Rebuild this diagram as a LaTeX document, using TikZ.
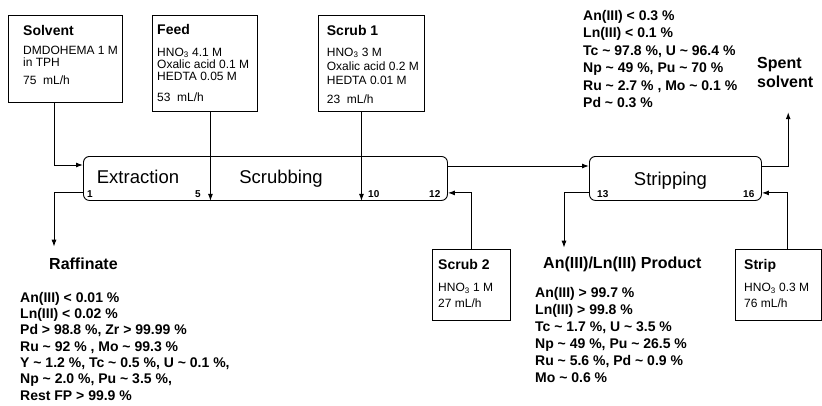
\documentclass[tikz,border=0pt]{standalone}
\usepackage{fontspec}
\setmainfont{Liberation Sans}
\usetikzlibrary{arrows.meta,positioning}

\begin{document}
\begin{tikzpicture}[
  x=1pt, y=-1pt,
  feedbox/.style={
    rectangle,
    draw=black,
    line width=0.9pt,
    anchor=north west,
    inner sep=0pt
  },
  boxtext/.style={
    anchor=north west,
    inner sep=0pt,
    align=left,
    font=\fontsize{12}{12}\selectfont
  },
  stage/.style={
    rectangle,
    rounded corners=6pt,
    draw=black,
    line width=0.9pt,
    anchor=north west,
    inner sep=0pt,
    minimum height=44pt
  },
  stagelabel/.style={anchor=base, inner sep=0pt, font=\fontsize{18.5}{18.5}\selectfont},
  stagenum/.style={anchor=base west, inner sep=0pt, font=\fontsize{10}{10}\selectfont\bfseries},
  heading/.style={inner sep=0pt, align=left, font=\fontsize{16}{19}\selectfont\bfseries},
  result/.style={anchor=north west, inner sep=0pt, align=left, font=\fontsize{14}{17}\selectfont\bfseries},
  flow/.style={-{Latex[length=7pt,width=5pt]}, line width=1pt}
]

\useasboundingbox (0,0) rectangle (822,405);

% feed boxes
\node[feedbox, minimum width=114pt, minimum height=87pt] (solvent) at (8,15) {};
\node[boxtext, below right=10pt and 15pt of solvent.north west]
  {{\fontsize{14}{14}\selectfont\bfseries Solvent}\\[7pt]
   DMDOHEMA 1 M\\
   in TPH\\[6pt]
   75~ mL/h};

\node[feedbox, minimum width=105pt, minimum height=96pt] (feed) at (152,15) {};
\node[boxtext, below right=9.1pt and 5pt of feed.north west]
  {{\fontsize{14}{14}\selectfont\bfseries Feed}\\[9.7pt]
   HNO\textsubscript{3} 4.1 M\\[0.6pt]
   Oxalic acid 0.1 M\\
   HEDTA 0.05 M\\[8.7pt]
   53~ mL/h};

\node[feedbox, minimum width=106pt, minimum height=96pt] (scrubA) at (318,15) {};
\node[boxtext, below right=9.8pt and 8.7pt of scrubA.north west]
  {{\fontsize{14}{14}\selectfont\bfseries Scrub 1}\\[9pt]
   HNO\textsubscript{3} 3 M\\[2.3pt]
   Oxalic acid 0.2 M\\[2pt]
   HEDTA 0.01 M\\[7.3pt]
   23~ mL/h};

\node[feedbox, minimum width=78pt, minimum height=71pt] (scrubB) at (432,249) {};
\node[boxtext, below right=9.8pt and 6pt of scrubB.north west]
  {{\fontsize{14}{14}\selectfont\bfseries Scrub 2}\\[10.3pt]
   HNO\textsubscript{3} 1 M\\[4pt]
   27 mL/h};

\node[feedbox, minimum width=86pt, minimum height=71pt] (stripfeed) at (735,249) {};
\node[boxtext, below right=9.7pt and 9pt of stripfeed.north west]
  {{\fontsize{14}{14}\selectfont\bfseries Strip}\\[10.3pt]
   HNO\textsubscript{3} 0.3 M\\[4pt]
   76 mL/h};

% contactor banks
\node[stage, minimum width=364pt] (ext) at (83,156) {};
\node[stage, minimum width=172pt] (strp) at (589,156) {};

\node[stagelabel] at (138,183.5) {Extraction};
\node[stagelabel] at (281,183.5) {Scrubbing};
\node[stagelabel] at (670.5,185.5) {Stripping};

\node[stagenum] at (87,197) {1};
\node[stagenum] at (195,197) {5};
\node[stagenum] at (368,197) {10};
\node[stagenum] at (429,197) {12};
\node[stagenum] at (597,197) {13};
\node[stagenum] at (743,197) {16};

% outlet streams
\node[heading, anchor=base west] (raff) at (49,269.5) {Raffinate};
\node[heading, anchor=base west] (prod) at (543,268.5) {An(III)/Ln(III) Product};
\node[heading, anchor=north west] (spent) at (757,57.5) {Spent\\solvent};

\node[result, font=\fontsize{14}{16.3}\selectfont\bfseries] (rafflist) at (20,292)
  {An(III) < 0.01 \%\\
   Ln(III) < 0.02 \%\\
   Pd > 98.8 \%, Zr > 99.99 \%\\
   Ru \textasciitilde{} 92 \% , Mo \textasciitilde{} 99.3 \%\\
   Y \textasciitilde{} 1.2 \%, Tc \textasciitilde{} 0.5 \%, U \textasciitilde{} 0.1 \%,\\
   Np \textasciitilde{} 2.0 \%, Pu \textasciitilde{} 3.5 \%,\\
   Rest FP > 99.9 \%};

\node[result] (prodlist) at (535,287)
  {An(III) > 99.7 \%\\
   Ln(III) > 99.8 \%\\
   Tc \textasciitilde{} 1.7 \%, U \textasciitilde{} 3.5 \%\\
   Np \textasciitilde{} 49 \%, Pu \textasciitilde{} 26.5 \%\\
   Ru \textasciitilde{} 5.6 \%, Pd \textasciitilde{} 0.9 \%\\
   Mo \textasciitilde{} 0.6 \%};

\node[result, font=\fontsize{14}{17.5}\selectfont\bfseries] (spentlist) at (583,10)
  {An(III) < 0.3 \%\\
   Ln(III) < 0.1 \%\\
   Tc \textasciitilde{} 97.8 \%, U \textasciitilde{} 96.4 \%\\
   Np \textasciitilde{} 49 \%, Pu \textasciitilde{} 70 \%\\
   Ru \textasciitilde{} 2.7 \% , Mo \textasciitilde{} 0.1 \%\\
   Pd \textasciitilde{} 0.3 \%};

% streams
\draw[flow] ([xshift=-11pt]solvent.south) |- ([yshift=-9pt]ext.north west);
\draw[flow] ([xshift=5.5pt]feed.south) -- ([xshift=5.5pt]feed.south |- ext.south);
\draw[flow] ([xshift=-10pt]scrubA.south) -- ([xshift=-10pt]scrubA.south |- ext.south);
\draw[flow] ([yshift=8pt]ext.south west) -| ([shift={(5pt,11pt)}]raff.north west);
\draw[flow] (scrubB.north) |- ([yshift=8pt]ext.south east);
\draw[flow] ([yshift=-10pt]ext.north east) -- ([yshift=-10pt]strp.north west);
\draw[flow] ([yshift=-10pt]strp.north east) -| ([shift={(3pt,-24pt)}]spent.south);
\draw[flow] ([yshift=8pt]strp.south west) -| ([shift={(21pt,9pt)}]prod.north west);
\draw[flow] ([xshift=9pt]stripfeed.north) |- ([yshift=8pt]strp.south east);

\end{tikzpicture}
\end{document}
